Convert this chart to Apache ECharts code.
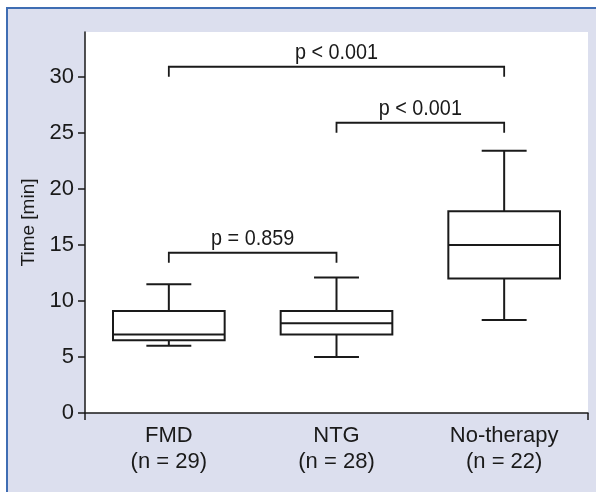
<!DOCTYPE html>
<html><head><meta charset="utf-8">
<script src="https://cdn.jsdelivr.net/npm/echarts@6/dist/echarts.min.js"></script>
<style>
html,body{margin:0;padding:0;background:#fff;}
#frame{position:absolute;left:6px;top:7px;width:600px;height:500px;border-left:2px solid #3f6db3;border-top:2px solid #3f6db3;background:#dcdfee;}
#c{position:absolute;left:0;top:0;width:596px;height:492px;}
</style>
</head><body><div id="frame"></div><div id="c"></div>
<script>
const categories = ['FMD\n(n = 29)', 'NTG\n(n = 28)', 'No-therapy\n(n = 22)'];
const whiskerLow = [6.0, 5.0, 8.3];
const q1 = [6.5, 7.0, 12.0];
const median = [7.0, 8.0, 15.0];
const q3 = [9.1, 9.1, 18.0];
const whiskerHigh = [11.5, 12.1, 23.4];
const yTicks = [0, 5, 10, 15, 20, 25, 30];
const bracketFrom = [0, 1, 0];
const bracketTo = [2, 2, 1];
const bracketTop = [30.9, 25.9, 14.3];
const bracketLeg = [30.0, 25.0, 13.4];
const bracketLabels = ['p < 0.001', 'p < 0.001', 'p = 0.859'];

const FONT = "'Liberation Sans', Arial, sans-serif";
const INK = '#1a1a1a';

const chart = echarts.init(document.getElementById('c'), null, {renderer: 'canvas'});
const boxData = categories.map((c, i) => [i, whiskerLow[i], q1[i], median[i], q3[i], whiskerHigh[i]]);
const brData = bracketFrom.map((f, i) => [f, bracketTo[i], bracketTop[i], bracketLeg[i]]);

chart.setOption({
  animation: false,
  backgroundColor: 'transparent',
  textStyle: {fontFamily: FONT},
  grid: {left: 85, right: 8, top: 32, bottom: 79, show: true, backgroundColor: '#fff', borderWidth: 0, outerBoundsMode: 'none'},
  xAxis: [{
    type: 'category', data: categories, boundaryGap: true,
    axisLine: {lineStyle: {color: INK, width: 1.5}},
    axisTick: {alignWithLabel: true, length: 7, interval: 0, lineStyle: {color: INK, width: 1.5}},
    axisLabel: {interval: 0, fontSize: 22, lineHeight: 26, margin: 10, color: INK, fontFamily: FONT},
    splitLine: {show: false}
  }, {
    type: 'value', min: 0, max: 1, interval: 1, position: 'bottom',
    axisLine: {show: false},
    axisTick: {show: true, length: 7, lineStyle: {color: INK, width: 1.5}},
    axisLabel: {show: false}, splitLine: {show: false}
  }],
  yAxis: {
    type: 'value', min: 0, max: 34, interval: 5,
    name: 'Time [min]', nameLocation: 'middle', nameGap: 47,
    nameTextStyle: {fontSize: 19, color: INK, fontFamily: FONT},
    axisLine: {show: true, lineStyle: {color: INK, width: 1.5}},
    axisTick: {show: true, length: 7, customValues: yTicks, lineStyle: {color: INK, width: 1.5}},
    axisLabel: {customValues: yTicks, margin: 11, fontSize: 22, color: INK, fontFamily: FONT},
    splitLine: {show: false}
  },
  series: [{
    type: 'custom', xAxisIndex: 0, yAxisIndex: 0,
    data: boxData, encode: {x: 0, y: [1, 2, 3, 4, 5]},
    renderItem: function (params, api) {
      const i = api.value(0);
      const x = api.coord([i, 0])[0];
      const bw = api.size([1, 0])[0];
      const hw = bw * 0.333, cw = bw * 0.134;
      const y = v => api.coord([i, v])[1];
      const lo = y(api.value(1)), a = y(api.value(2)), m = y(api.value(3)), b = y(api.value(4)), hi = y(api.value(5));
      const ls = {stroke: INK, lineWidth: 2, fill: null};
      return {type: 'group', children: [
        {type: 'line', shape: {x1: x, y1: lo, x2: x, y2: a}, style: ls},
        {type: 'line', shape: {x1: x, y1: b, x2: x, y2: hi}, style: ls},
        {type: 'line', shape: {x1: x - cw, y1: lo, x2: x + cw, y2: lo}, style: ls},
        {type: 'line', shape: {x1: x - cw, y1: hi, x2: x + cw, y2: hi}, style: ls},
        {type: 'rect', shape: {x: x - hw, y: b, width: 2 * hw, height: a - b}, style: {fill: '#fff', stroke: INK, lineWidth: 2}},
        {type: 'line', shape: {x1: x - hw, y1: m, x2: x + hw, y2: m}, style: ls}
      ]};
    }
  }, {
    type: 'custom', xAxisIndex: 0, yAxisIndex: 0,
    data: brData, encode: {x: [0, 1], y: [2, 3]},
    renderItem: function (params, api) {
      const x0 = api.coord([api.value(0), 0])[0];
      const x1 = api.coord([api.value(1), 0])[0];
      const yt = api.coord([0, api.value(2)])[1];
      const yl = api.coord([0, api.value(3)])[1];
      return {type: 'group', children: [
        {type: 'polyline', shape: {points: [[x0, yl], [x0, yt], [x1, yt], [x1, yl]]}, style: {stroke: INK, lineWidth: 1.8, fill: null}},
        {type: 'text', x: (x0 + x1) / 2, y: yt - 13.5, scaleX: 0.9, style: {text: bracketLabels[params.dataIndex], fontSize: 22, fontFamily: FONT, fill: INK, align: 'center', verticalAlign: 'middle'}}
      ]};
    }
  }]
});
</script>
</body></html>
